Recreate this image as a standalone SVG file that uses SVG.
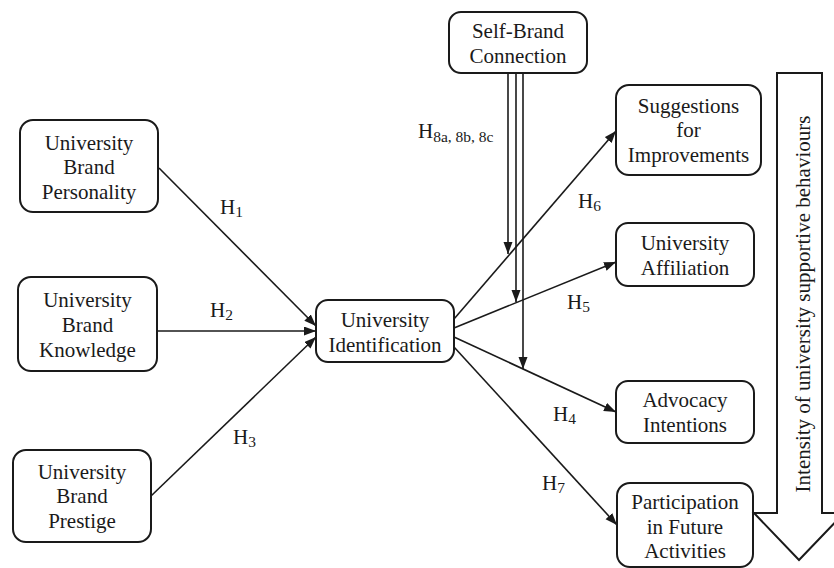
<svg xmlns="http://www.w3.org/2000/svg" width="834" height="568" viewBox="0 0 834 568">
<style>
.box{fill:#fff;stroke:#1a1a1a;stroke-width:2}
.t{font-family:"Liberation Serif","Times New Roman",serif;font-size:21px;fill:#1a1a1a;text-anchor:middle}
.h{font-family:"Liberation Serif","Times New Roman",serif;font-size:21px;fill:#1a1a1a}
.sub{font-size:15.5px}
.ln{stroke:#1a1a1a;stroke-width:1.6;fill:none}
</style>
<defs>
<marker id="ah" markerUnits="userSpaceOnUse" markerWidth="13" markerHeight="10" refX="12" refY="4.5" orient="auto">
<path d="M0,0 L12,4.5 L0,9 z" fill="#1a1a1a"/>
</marker>
</defs>
<rect width="834" height="568" fill="#fff"/>

<g id="connectors">
<line class="ln" x1="159" y1="168" x2="316" y2="326" marker-end="url(#ah)"/>
<line class="ln" x1="157" y1="331" x2="316" y2="331" marker-end="url(#ah)"/>
<line class="ln" x1="151" y1="496" x2="316" y2="337" marker-end="url(#ah)"/>
<line class="ln" x1="454" y1="319" x2="616" y2="131" marker-end="url(#ah)"/>
<line class="ln" x1="454" y1="328" x2="616" y2="262" marker-end="url(#ah)"/>
<line class="ln" x1="454" y1="337" x2="616" y2="412" marker-end="url(#ah)"/>
<line class="ln" x1="454" y1="347" x2="617" y2="525" marker-end="url(#ah)"/>
<line class="ln" x1="508" y1="73" x2="508" y2="254" marker-end="url(#ah)"/>
<line class="ln" x1="516" y1="73" x2="516" y2="302" marker-end="url(#ah)"/>
<line class="ln" x1="523" y1="73" x2="523" y2="369" marker-end="url(#ah)"/>
</g>

<g id="labels">
<text class="h" x="220" y="214">H<tspan class="sub" dy="3">1</tspan></text>
<text class="h" x="210" y="317">H<tspan class="sub" dy="3">2</tspan></text>
<text class="h" x="233" y="444">H<tspan class="sub" dy="3">3</tspan></text>
<text class="h" x="418" y="138">H<tspan class="sub" dy="4">8a, 8b, 8c</tspan></text>
<text class="h" x="578" y="208">H<tspan class="sub" dy="3">6</tspan></text>
<text class="h" x="567" y="309">H<tspan class="sub" dy="3">5</tspan></text>
<text class="h" x="553" y="421">H<tspan class="sub" dy="3">4</tspan></text>
<text class="h" x="542" y="490">H<tspan class="sub" dy="3">7</tspan></text>
</g>

<g id="n-personality">
<rect class="box" x="20" y="120" width="138" height="92" rx="13"/>
<text class="t" x="89" y="150">University</text>
<text class="t" x="89" y="174">Brand</text>
<text class="t" x="89" y="199">Personality</text>
</g>
<g id="n-knowledge">
<rect class="box" x="18" y="277" width="139" height="94" rx="13"/>
<text class="t" x="87.5" y="307">University</text>
<text class="t" x="87.5" y="332">Brand</text>
<text class="t" x="87.5" y="357">Knowledge</text>
</g>
<g id="n-prestige">
<rect class="box" x="13" y="450" width="138" height="92" rx="13"/>
<text class="t" x="82" y="479">University</text>
<text class="t" x="82" y="503">Brand</text>
<text class="t" x="82" y="528">Prestige</text>
</g>
<g id="n-identification">
<rect class="box" x="316" y="300" width="138" height="62" rx="12"/>
<text class="t" x="385" y="327">University</text>
<text class="t" x="385" y="352">Identification</text>
</g>
<g id="n-selfbrand">
<rect class="box" x="449" y="12" width="138" height="61" rx="12"/>
<text class="t" x="518" y="38">Self-Brand</text>
<text class="t" x="518" y="63">Connection</text>
</g>
<g id="n-suggestions">
<rect class="box" x="616" y="85" width="145" height="90" rx="13"/>
<text class="t" x="688.5" y="113">Suggestions</text>
<text class="t" x="688.5" y="137">for</text>
<text class="t" x="688.5" y="162">Improvements</text>
</g>
<g id="n-affiliation">
<rect class="box" x="616" y="223" width="138" height="63" rx="12"/>
<text class="t" x="685" y="250">University</text>
<text class="t" x="685" y="275">Affiliation</text>
</g>
<g id="n-advocacy">
<rect class="box" x="616" y="381" width="138" height="62" rx="12"/>
<text class="t" x="685" y="407">Advocacy</text>
<text class="t" x="685" y="432">Intentions</text>
</g>
<g id="n-participation">
<rect class="box" x="617" y="483" width="136" height="84" rx="13"/>
<text class="t" x="685" y="509">Participation</text>
<text class="t" x="685" y="534">in Future</text>
<text class="t" x="685" y="558">Activities</text>
</g>

<g id="intensity-arrow">
<path d="M777,73 L822,73 L822,513 L844,513 L799,560 L754,513 L777,513 Z" fill="#fff" stroke="#1a1a1a" stroke-width="2" stroke-linejoin="miter"/>
<text class="t" transform="translate(810,304) rotate(-90)" x="0" y="0">Intensity of university supportive behaviours</text>
</g>
</svg>
